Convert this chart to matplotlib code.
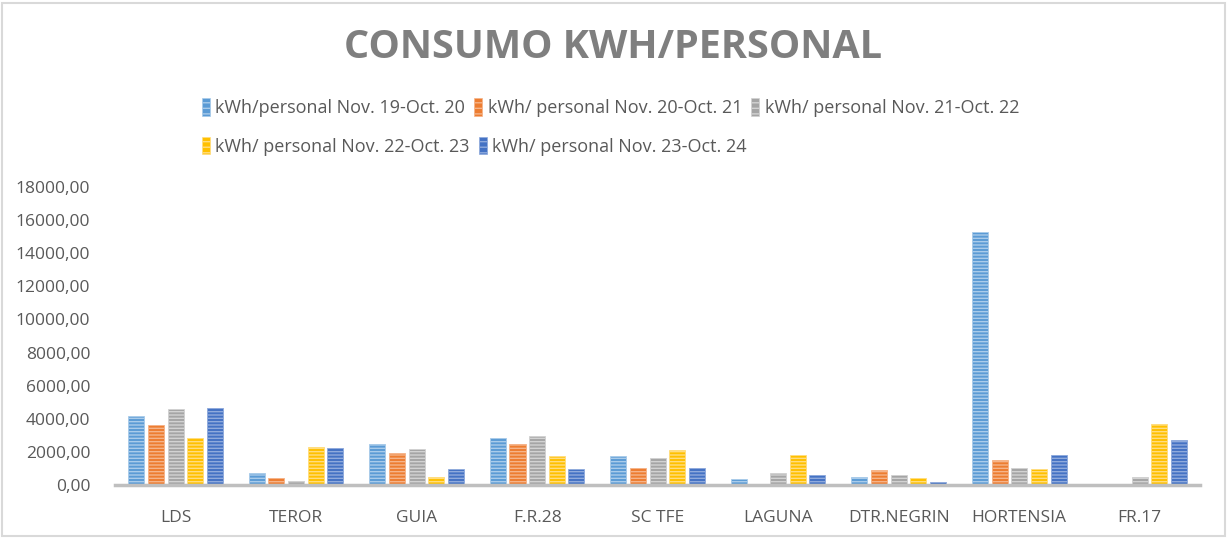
import numpy as np
import matplotlib.pyplot as plt
from matplotlib.patches import Rectangle, Patch
from matplotlib.ticker import FuncFormatter
from matplotlib import font_manager

sedes = ["LDS", "TEROR", "GUIA", "F.R.28", "SC TFE", "LAGUNA", "DTR.NEGRIN", "HORTENSIA", "FR.17"]
series_names = ["kWh/personal Nov. 19-Oct. 20", "kWh/ personal Nov. 20-Oct. 21",
                "kWh/ personal Nov. 21-Oct. 22", "kWh/ personal Nov. 22-Oct. 23",
                "kWh/ personal Nov. 23-Oct. 24"]
nov19_oct20 = [4170, 745, 2500, 2820, 1750, 360, 480, 15290, 0]
nov20_oct21 = [3625, 420, 1950, 2500, 1030, 0, 900, 1510, 0]
nov21_oct22 = [4570, 240, 2150, 2960, 1630, 745, 600, 1030, 480]
nov22_oct23 = [2820, 2300, 480, 1750, 2110, 1810, 420, 950, 3710]
nov23_oct24 = [4630, 2220, 950, 950, 1030, 600, 180, 1810, 2700]
values = [nov19_oct20, nov20_oct21, nov21_oct22, nov22_oct23, nov23_oct24]

colors = ["#5B9BD5", "#ED7D31", "#A5A5A5", "#FFC000", "#4472C4"]
stripes = ["#A9CBEA", "#F5B48A", "#D2D2D2", "#FFDD80", "#8FAADC"]

names = {f.name for f in font_manager.fontManager.ttflist}
font = "Liberation Sans Narrow" if "Liberation Sans Narrow" in names else "Open Sans"
plt.rcParams['font.family'] = [font, 'DejaVu Sans']
plt.rcParams['hatch.linewidth'] = 1.0

fig = plt.figure(figsize=(12.27, 5.38), dpi=100)
ax = fig.add_axes([0.094, 0.0985, 0.884, 0.554])

x = np.arange(len(sedes))
pitch = 0.163
width = 0.133
for k, vals in enumerate(values):
    ax.bar(x + (k - 2) * pitch, vals, width, color=colors[k], edgecolor=stripes[k],
           hatch="-----", linewidth=0.6, zorder=2)

ax.set_xlim(-0.5, len(sedes) - 0.5)
ax.set_ylim(0, 18000)
ax.set_yticks(np.arange(0, 18001, 2000))
ax.yaxis.set_major_formatter(FuncFormatter(lambda v, p: f"{v:.2f}".replace(".", ",")))
ax.set_xticks(x)
ax.set_xticklabels(sedes)
ax.tick_params(axis='both', length=0, labelsize=12.5, colors="#595959")
ax.tick_params(axis='x', pad=18)
ax.tick_params(axis='y', pad=18)
for s in ["top", "right", "left"]:
    ax.spines[s].set_visible(False)
ax.spines["bottom"].set_color("#BFBFBF")
ax.spines["bottom"].set_linewidth(2.5)

# title, a bit spread out like the original
fig.text(0.5, 0.912, "CONSUMO KWH/PERSONAL", ha="center", va="center", fontsize=28.5,
         fontweight="bold", color="#7F7F7F", family=["Open Sans", "DejaVu Sans"])

handles = [Patch(facecolor=colors[k], edgecolor=stripes[k], hatch="---", linewidth=0.5)
           for k in range(5)]
leg1 = fig.legend(handles[:3], series_names[:3], loc="center left", bbox_to_anchor=(0.151, 0.8),
                  ncol=3, frameon=False, fontsize=13, handlelength=0.45, handleheight=1.1,
                  handletextpad=0.3, columnspacing=0.5, labelcolor="#595959")
leg2 = fig.legend(handles[3:], series_names[3:], loc="center left", bbox_to_anchor=(0.151, 0.728),
                  ncol=2, frameon=False, fontsize=13, handlelength=0.45, handleheight=1.1,
                  handletextpad=0.3, columnspacing=0.5, labelcolor="#595959")

fig.patches.append(Rectangle((0.002, 0.004), 0.996, 0.99, transform=fig.transFigure,
                             fill=False, edgecolor="#D9D9D9", linewidth=1.5))

fig.savefig("out.png", dpi=100)
